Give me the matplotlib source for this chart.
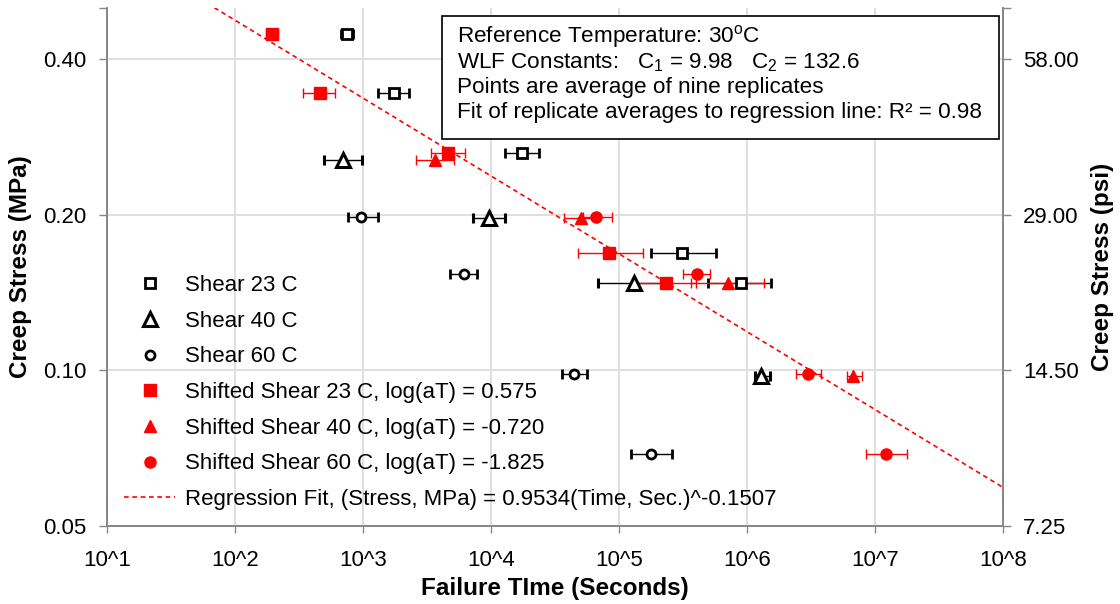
import numpy as np
import matplotlib
matplotlib.use("Agg")
import matplotlib.pyplot as plt
from matplotlib.lines import Line2D
from matplotlib.patches import Rectangle

plt.rcParams["font.family"] = ["Liberation Sans", "DejaVu Sans"]
plt.rcParams["mathtext.fontset"] = "custom"
plt.rcParams["mathtext.rm"] = "Liberation Sans"
plt.rcParams["mathtext.it"] = "Liberation Sans:italic"

# failure time (s), stress (MPa), error bar ends (s)
shear23_time = [746, 1758, 17580, 312600, 893000]
shear23_stress = [0.448, 0.345, 0.264, 0.169, 0.148]
shear23_lo = [670, 1303, 12940, 177800, 499000]
shear23_hi = [832, 2301, 23710, 572800, 1542000]

shear40_time = [693, 9640, 130900, 1285000]
shear40_stress = [0.256, 0.197, 0.148, 0.0977]
shear40_lo = [493, 7190, 68200, 1155000]
shear40_hi = [982, 12940, 250000, 1514000]

shear60_time = [971, 6120, 44360, 177000]
shear60_stress = [0.198, 0.154, 0.0983, 0.0688]
shear60_lo = [767, 4786, 35890, 124200]
shear60_hi = [1303, 7727, 55970, 258200]

shift23_time = [195, 461, 4634, 83950, 232800]
shift23_lo = [175, 342, 3412, 47750, 130000]
shift23_hi = [218, 604, 6295, 153800, 401800]

shift40_time = [3651, 50230, 706300, 6761000]
shift40_lo = [2594, 37500, 368100, 6074000]
shift40_hi = [5164, 67450, 1349000, 7962000]

shift60_time = [65770, 406400, 2979000, 12130000]
shift60_lo = [52000, 317700, 2410000, 8511000]
shift60_hi = [88310, 512900, 3758000, 17700000]

fit_a = 0.9534
fit_b = -0.1507

x_ticks = [1e1, 1e2, 1e3, 1e4, 1e5, 1e6, 1e7, 1e8]
x_labels = ["10^1", "10^2", "10^3", "10^4", "10^5", "10^6", "10^7", "10^8"]
y_ticks = [0.05, 0.10, 0.20, 0.40]
y_labels = ["0.05", "0.10", "0.20", "0.40"]
psi_ticks = [7.25, 14.50, 29.00, 58.00]
psi_labels = ["7.25", "14.50", "29.00", "58.00"]
y_max = 0.503

info_lines = [
    "Reference Temperature: 30$^{\\mathrm{o}}$C",
    "WLF Constants:   C$_1$ = 9.98   C$_2$ = 132.6",
    "Points are average of nine replicates",
    "Fit of replicate averages to regression line: R\u00b2 = 0.98",
]

grey = "#868686"
red = "#ff0000"

fig = plt.figure(figsize=(11.2, 6.04), dpi=100)
ax = fig.add_axes([107 / 1120, 1 - 526 / 604, 896 / 1120, 518 / 604])


def err(t, lo, hi):
    t = np.array(t, float)
    return [t - np.array(lo), np.array(hi) - t]


ebar = dict(ls="none", elinewidth=1.0, capsize=3.6, capthick=1.0)
ax.errorbar(shear23_time, shear23_stress, xerr=err(shear23_time, shear23_lo, shear23_hi),
            marker="s", ms=6.5, mfc="white", mec="black", mew=2, ecolor="black", **ebar)
ax.errorbar(shear40_time, shear40_stress, xerr=err(shear40_time, shear40_lo, shear40_hi),
            marker="^", ms=10, mfc="white", mec="black", mew=2.2, ecolor="black", **ebar)
ax.errorbar(shear60_time, shear60_stress, xerr=err(shear60_time, shear60_lo, shear60_hi),
            marker="o", ms=6.5, mfc="white", mec="black", mew=2, ecolor="black", **ebar)
ax.errorbar(shift23_time, shear23_stress, xerr=err(shift23_time, shift23_lo, shift23_hi),
            marker="s", ms=8, mfc=red, mec=red, ecolor=red, **ebar)
ax.errorbar(shift40_time, shear40_stress, xerr=err(shift40_time, shift40_lo, shift40_hi),
            marker="^", ms=8.5, mfc=red, mec=red, ecolor=red, **ebar)
ax.errorbar(shift60_time, shear60_stress, xerr=err(shift60_time, shift60_lo, shift60_hi),
            marker="o", ms=8, mfc=red, mec=red, ecolor=red, **ebar)

t_fit = np.logspace(1, 8, 200)
ax.plot(t_fit, fit_a * t_fit ** fit_b, color=red, lw=1.2, dashes=(2.8, 2.2))

ax.set_xscale("log")
ax.set_yscale("log")
ax.set_xlim(1e1, 1e8)
ax.set_ylim(0.05, y_max)
ax.set_xticks(x_ticks)
ax.set_xticklabels(x_labels)
ax.set_xticks([], minor=True)
ax.set_yticks(y_ticks)
ax.set_yticklabels(y_labels)
ax.set_yticks([y_max], minor=True)
ax.set_yticklabels([""], minor=True)
ax.grid(True, which="major", color="#d9d9d9", lw=1.2)
ax.set_axisbelow(True)
ax.tick_params(axis="x", which="major", direction="out", length=5, width=1, color=grey,
               labelsize=16, pad=12)
ax.tick_params(axis="y", which="both", direction="out", length=5.5, width=1, color=grey,
               labelsize=16, pad=9)
for side in ["left", "bottom", "right"]:
    ax.spines[side].set_color(grey)
    ax.spines[side].set_linewidth(1.2)
ax.spines["top"].set_visible(False)

ax2 = ax.twinx()
ax2.set_yscale("log")
ax2.set_ylim(0.05 * 145, y_max * 145)
ax2.set_yticks(psi_ticks)
ax2.set_yticklabels(psi_labels)
ax2.set_yticks([y_max * 145], minor=True)
ax2.set_yticklabels([""], minor=True)
ax2.tick_params(axis="y", which="both", direction="out", length=5.5, width=1, color=grey,
                labelsize=16, pad=9)
for side in ["left", "bottom", "right"]:
    ax2.spines[side].set_color(grey)
    ax2.spines[side].set_linewidth(1.2)
ax2.spines["top"].set_visible(False)

handles = [
    Line2D([], [], ls="none", marker="s", ms=6.5, mfc="white", mec="black", mew=2),
    Line2D([], [], ls="none", marker="^", ms=10, mfc="white", mec="black", mew=2.2),
    Line2D([], [], ls="none", marker="o", ms=6.5, mfc="white", mec="black", mew=2),
    Line2D([], [], ls="none", marker="s", ms=8, mfc=red, mec=red),
    Line2D([], [], ls="none", marker="^", ms=8.5, mfc=red, mec=red),
    Line2D([], [], ls="none", marker="o", ms=8, mfc=red, mec=red),
    Line2D([], [], color=red, lw=1.2, dashes=(2.8, 2.2)),
]
labels = [
    "Shear 23 C",
    "Shear 40 C",
    "Shear 60 C",
    "Shifted Shear 23 C, log(aT) = 0.575",
    "Shifted Shear 40 C, log(aT) = -0.720",
    "Shifted Shear 60 C, log(aT) = -1.825",
    "Regression Fit, (Stress, MPa) = 0.9534(Time, Sec.)^-0.1507",
]
ax2.legend(handles, labels, loc="upper left", bbox_to_anchor=(124 / 1120, 1 - 275 / 604),
           bbox_transform=fig.transFigure, frameon=False, fontsize=16, borderpad=0,
           handlelength=2.3, handletextpad=0.45, labelspacing=0.66, borderaxespad=0)

fig.patches.append(Rectangle((442 / 1120, 1 - 139 / 604), 557 / 1120, 123 / 604,
                             transform=fig.transFigure, fill=True, facecolor="white",
                             edgecolor="black", lw=1.2, zorder=5))
for i, line in enumerate(info_lines):
    fig.text(457 / 1120, 1 - (37 + 25.3 * i) / 604, line, fontsize=16.2, va="center",
             ha="left", zorder=6)

fig.text(555 / 1120, 1 - 588 / 604, "Failure TIme (Seconds)", fontsize=17.5,
         fontweight="bold", ha="center", va="center")
fig.text(21 / 1120, 1 - 267 / 604, "Creep Stress (MPa)", fontsize=17.5,
         fontweight="bold", ha="center", va="center", rotation=90)
fig.text(1103 / 1120, 1 - 267 / 604, "Creep Stress (psi)", fontsize=17.5,
         fontweight="bold", ha="center", va="center", rotation=90)

plt.savefig("out.png", dpi=100)
